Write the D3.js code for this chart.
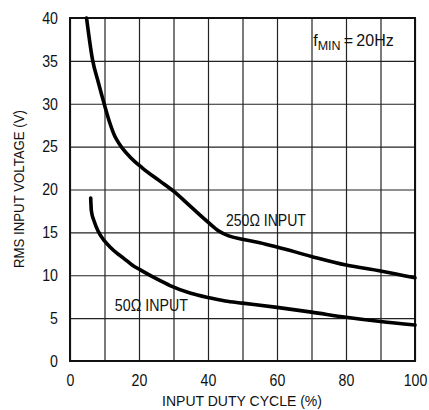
<!DOCTYPE html>
<html>
<head>
<meta charset="utf-8">
<script src="https://cdn.jsdelivr.net/npm/d3@7"></script>
<style>
  body { margin: 0; background: #fff; }
  text { font-family: "Liberation Sans", Arial, sans-serif; fill: #111; }
</style>
</head>
<body>
<svg width="429" height="410"></svg>
<script>
// values
const xTickLabels = [0, 20, 40, 60, 80, 100];
const xGridValues = [0, 10, 20, 30, 40, 50, 60, 70, 80, 90, 100];
const yTickLabels = [0, 5, 10, 15, 20, 25, 30, 35, 40];

// duty cycle (%) vs RMS input voltage (V)
const input250Duty = [4.8, 6.5, 8.2, 9.9, 11.6, 13, 14.5, 17.4, 21, 26, 30, 35, 40, 43, 46, 50, 55, 60, 70, 80, 90, 100];
const input250Volts = [40, 35.2, 32.5, 30, 27.7, 26.2, 25.2, 23.8, 22.5, 21.0, 19.8, 18.0, 16.2, 15.2, 14.6, 14.2, 13.8, 13.3, 12.2, 11.2, 10.5, 9.7];

const input50Duty = [6.0, 6.2, 7, 8.2, 10, 11.6, 13.5, 15.5, 18, 20.5, 25, 29, 35, 40, 45, 50, 60, 70, 80, 90, 100];
const input50Volts = [19.0, 17.5, 16.3, 15.1, 14.0, 13.3, 12.6, 12.0, 11.2, 10.6, 9.6, 8.8, 7.9, 7.4, 7.0, 6.75, 6.25, 5.7, 5.1, 4.6, 4.2];

const svg = d3.select('svg');
const width = +svg.attr('width');
const height = +svg.attr('height');

const margin = { top: 18, right: 14, bottom: 49, left: 70 };
const innerWidth = width - margin.left - margin.right;
const innerHeight = height - margin.top - margin.bottom;

const xScale = d3.scaleLinear().domain([0, 100]).range([0, innerWidth]);
const yScale = d3.scaleLinear().domain([0, 40]).range([innerHeight, 0]);

const g = svg.append('g')
    .attr('transform', `translate(${margin.left},${margin.top})`);

// vertical grid
const xGrid = g.append('g')
    .attr('transform', `translate(0,${innerHeight})`)
    .call(d3.axisBottom(xScale).tickValues(xGridValues).tickSize(-innerHeight).tickFormat(''));
xGrid.select('.domain').remove();
xGrid.selectAll('.tick line').attr('stroke', '#222').attr('stroke-width', 1.2);

// horizontal grid + y labels (condensed look)
const yAxisG = g.append('g')
    .call(d3.axisLeft(yScale).tickValues(yTickLabels).tickSize(-innerWidth).tickPadding(14));
yAxisG.select('.domain').remove();
yAxisG.selectAll('.tick line').attr('stroke', '#222').attr('stroke-width', 1.2);
yAxisG.selectAll('text')
    .style('font-size', '16.5px')
    .attr('transform', 'scale(0.86,1)');

// x labels
const xAxisG = g.append('g')
    .attr('transform', `translate(0,${innerHeight})`)
    .call(d3.axisBottom(xScale).tickValues(xTickLabels).tickSize(0).tickPadding(13));
xAxisG.select('.domain').remove();
xAxisG.selectAll('text')
    .style('font-size', '16.5px')
    .attr('transform', 'scale(0.86,1)');

// frame
g.append('rect')
    .attr('width', innerWidth)
    .attr('height', innerHeight)
    .attr('fill', 'none')
    .attr('stroke', '#111')
    .attr('stroke-width', 2);

const line = d3.line()
    .x(d => xScale(d[0]))
    .y(d => yScale(d[1]))
    .curve(d3.curveMonotoneX);

const series = [
    d3.zip(input250Duty, input250Volts),
    d3.zip(input50Duty, input50Volts)
];

g.selectAll('path.curve')
    .data(series)
    .enter()
    .append('path')
    .attr('class', 'curve')
    .attr('d', line)
    .attr('fill', 'none')
    .attr('stroke', '#000')
    .attr('stroke-width', 3.6)
    .attr('stroke-linecap', 'round');

// curve labels
g.append('text')
    .attr('x', xScale(45.2))
    .attr('y', yScale(15.7))
    .style('font-size', '16.5px')
    .attr('textLength', 80)
    .attr('lengthAdjust', 'spacingAndGlyphs')
    .text('250\u03A9 INPUT');

g.append('text')
    .attr('x', xScale(13))
    .attr('y', yScale(5.85))
    .style('font-size', '16.5px')
    .attr('textLength', 73)
    .attr('lengthAdjust', 'spacingAndGlyphs')
    .text('50\u03A9 INPUT');

// fmin note
const note = g.append('text')
    .attr('x', xScale(70.5))
    .attr('y', 28)
    .style('font-size', '16px');
note.append('tspan').text('f');
note.append('tspan').attr('dy', 4).style('font-size', '12.5px').text('MIN');
note.append('tspan').attr('dy', -4).text('\u2009=\u200920Hz');

// axis titles
svg.append('text')
    .attr('x', 242)
    .attr('y', 406)
    .style('font-size', '15px')
    .style('text-anchor', 'middle')
    .attr('textLength', 160)
    .attr('lengthAdjust', 'spacingAndGlyphs')
    .text('INPUT DUTY CYCLE (%)');

svg.append('text')
    .attr('transform', 'translate(24,189) rotate(-90)')
    .style('font-size', '14px')
    .style('text-anchor', 'middle')
    .attr('textLength', 158)
    .attr('lengthAdjust', 'spacingAndGlyphs')
    .text('RMS INPUT VOLTAGE (V)');
</script>
</body>
</html>
